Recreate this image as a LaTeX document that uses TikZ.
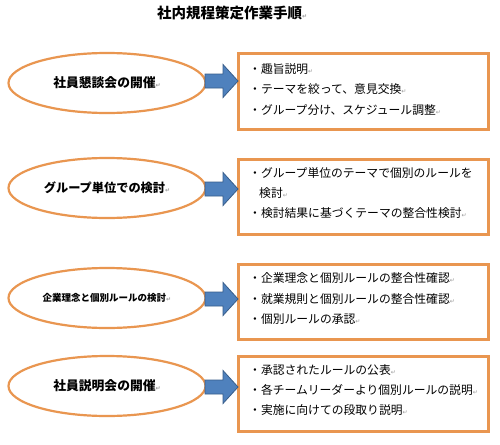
\documentclass[tikz,border=0pt]{standalone}
\usepackage{fontspec}
\setmainfont{Noto Sans CJK JP}
\newfontfamily\djv{DejaVu Sans}
\usetikzlibrary{shapes.geometric}
\definecolor{borange}{RGB}{233,150,80}
\definecolor{ablue}{RGB}{79,129,189}
\definecolor{ablueb}{RGB}{56,93,138}
\newcommand{\pmark}{{\color{gray!80}\djv\fontsize{6}{6}\selectfont ↵}}
\begin{document}
\begin{tikzpicture}[x=1pt,y=-1pt,
  ell/.style={draw=borange,line width=2.2pt,ellipse,minimum width=197pt,minimum height=60pt,inner sep=0pt,font=\bfseries\fontsize{12.8}{13}\selectfont},
  box/.style={draw=borange,line width=2.8pt,rectangle,inner sep=0pt,anchor=north west,minimum width=250pt},
  barrowline/.style={draw=ablueb,fill=ablue,line width=0.8pt,line join=miter},
  pics/blockarrow/.style={code={
    \draw[barrowline] (-16.5,-7) -- (1.5,-7) -- (1.5,-16.5) -- (16.5,0) -- (1.5,16.5) -- (1.5,7) -- (-16.5,7) -- cycle;}},
  item/.style={anchor=west,inner sep=0pt,font=\fontsize{11.8}{12}\selectfont},
  ttl/.style={anchor=west,inner sep=0pt,font=\bfseries\fontsize{14.5}{15}\selectfont}]
\useasboundingbox (0,0) rectangle (500,444);
\fill[white] (0,0) rectangle (500,444);

\node[ttl] (title) at (157,13) {社内規程策定作業手順\pmark};

% step 1
\node[ell] (e1) at (107,83) {社員懇談会の開催\pmark};
\node[box,minimum height=76pt] (b1) at (237,52) {};
\pic (a1) at (221.5,81) {blockarrow};
\node[item] (t11) at (249,69) {・趣旨説明\pmark};
\node[item] (t12) at (249,89) {・テーマを絞って、意見交換\pmark};
\node[item] (t13) at (249,110) {・グループ分け、スケジュール調整\pmark};

% step 2
\node[ell,font=\bfseries\fontsize{12.2}{13}\selectfont] (e2) at (107,188) {グループ単位での検討\pmark};
\node[box,minimum height=75pt] (b2) at (237,158) {};
\pic (a2) at (221.5,189) {blockarrow};
\node[item] (t21) at (249,173) {・グループ単位のテーマで個別のルールを};
\node[item] (t22) at (259,193) {検討\pmark};
\node[item] (t23) at (249,213) {・検討結果に基づくテーマの整合性検討\pmark};

% step 3
\node[ell,font=\bfseries\fontsize{9.5}{10}\selectfont] (e3) at (107,298) {企業理念と個別ルールの検討\pmark};
\node[box,minimum height=75pt] (b3) at (237,263) {};
\pic (a3) at (221.5,299) {blockarrow};
\node[item] (t31) at (249,278) {・企業理念と個別ルールの整合性確認\pmark};
\node[item] (t32) at (249,299) {・就業規則と個別ルールの整合性確認\pmark};
\node[item] (t33) at (249,319) {・個別ルールの承認\pmark};

% step 4
\node[ell] (e4) at (107,386) {社員説明会の開催\pmark};
\node[box,minimum height=75pt] (b4) at (237,355) {};
\pic (a4) at (221.5,387) {blockarrow};
\node[item] (t41) at (249,370) {・承認されたルールの公表\pmark};
\node[item] (t42) at (249,390) {・各チームリーダーより個別ルールの説明\pmark};
\node[item] (t43) at (249,410) {・実施に向けての段取り説明\pmark};
\end{tikzpicture}
\end{document}
